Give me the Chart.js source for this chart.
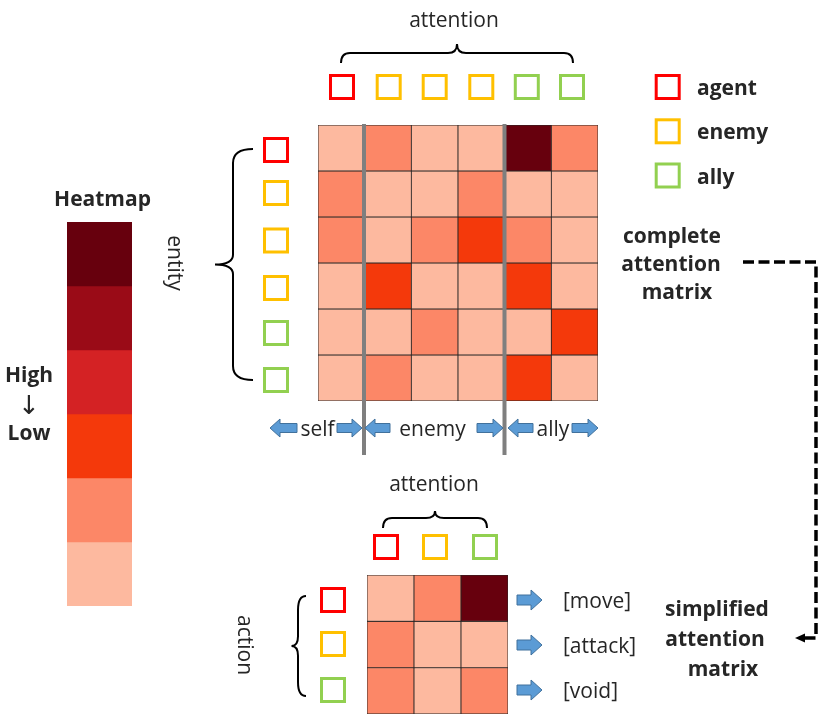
<!DOCTYPE html>
<html><head><meta charset="utf-8">
<script src="https://cdn.jsdelivr.net/npm/chart.js@4.4.1/dist/chart.umd.min.js"></script>
<style>
html,body{margin:0;padding:0;background:#fff;}
#stage{position:relative;width:831px;height:724px;overflow:hidden;background:#fff;}
canvas{position:absolute;}
svg{position:absolute;left:0;top:0;}
</style></head><body>
<div id="stage">
<canvas id="bigMap" width="280" height="276" style="left:318px;top:125px;width:280px;height:276px"></canvas>
<canvas id="smallMap" width="141" height="139" style="left:367px;top:575px;width:141px;height:139px"></canvas>
<canvas id="legendBar" width="65" height="384" style="left:67px;top:222px;width:65px;height:384px"></canvas>
<svg id="overlay" width="831" height="724" xmlns="http://www.w3.org/2000/svg"></svg>
</div>
<script>
// ---- data ----
const levelColors = ['#fdb99f', '#fc8767', '#f4390b', '#d42224', '#9a0b17', '#67000d']; // low -> high
const entityTypes = ['agent', 'enemy', 'enemy', 'enemy', 'ally', 'ally'];
const attentionLevels = [
  [0, 1, 0, 0, 5, 1],
  [1, 0, 0, 1, 0, 0],
  [1, 0, 1, 2, 1, 0],
  [0, 2, 0, 0, 2, 0],
  [0, 0, 1, 0, 0, 2],
  [0, 1, 0, 0, 2, 0]
];
const actionCols = ['agent', 'enemy', 'ally'];
const actionNames = ['[move]', '[attack]', '[void]'];
const actionLevels = [
  [0, 1, 5],
  [1, 0, 0],
  [1, 0, 1]
];
const legendLevels = [5, 4, 3, 2, 1, 0];
const groupLabels = ['self', 'enemy', 'ally'];
const legendTypes = ['agent', 'enemy', 'ally'];

// ---- styles ----
const typeColors = { agent: '#ff0000', enemy: '#ffc000', ally: '#92d050' };
const TXT = '#262626';
const REG = "'Open Sans', 'Noto Sans', sans-serif";

function heatmap(id, cols, matrix, bw) {
  const datasets = matrix.map((row, r) => ({
    data: row.map(() => [r, r + 1]),
    backgroundColor: row.map(l => levelColors[l]),
    borderColor: '#262626',
    borderWidth: bw,
    borderSkipped: false,
    barPercentage: 1,
    categoryPercentage: 1,
    grouped: false
  }));
  return new Chart(document.getElementById(id), {
    type: 'bar',
    data: { labels: cols.map((c, i) => c + i), datasets },
    options: {
      responsive: false, animation: false, events: [],
      layout: { padding: 0 },
      plugins: { legend: { display: false }, tooltip: { enabled: false } },
      scales: {
        x: { display: false },
        y: { display: false, min: 0, max: matrix.length, reverse: true }
      }
    }
  });
}
heatmap('bigMap', entityTypes, attentionLevels, 0.8);
heatmap('smallMap', actionCols, actionLevels, 0.8);
heatmap('legendBar', ['level'], legendLevels.map(l => [l]), 0);

// ---- overlay ----
const svg = document.getElementById('overlay');
const NS = 'http://www.w3.org/2000/svg';
function el(tag, attrs, text) {
  const e = document.createElementNS(NS, tag);
  for (const k in attrs) e.setAttribute(k, attrs[k]);
  if (text !== undefined) e.textContent = text;
  svg.appendChild(e);
  return e;
}
function square(cx, cy, type) {
  el('rect', { x: cx - 11.5, y: cy - 11.5, width: 23, height: 23, fill: 'none', stroke: typeColors[type], 'stroke-width': 3 });
}
function text(x, y, s, opts) {
  opts = opts || {};
  const a = {
    x, y, 'font-family': opts.family || REG, 'font-size': opts.size || 21,
    'font-weight': opts.bold ? 'bold' : 'normal', fill: TXT,
    'text-anchor': opts.anchor || 'middle', 'dominant-baseline': 'central'
  };
  if (opts.rot) a.transform = 'rotate(' + opts.rot + ' ' + x + ' ' + y + ')';
  el('text', a, s);
}
function hBrace(x1, x2, yEnd, yMid, yPeak) {
  const xm = (x1 + x2) / 2, r = 9;
  const d = `M ${x1} ${yEnd} Q ${x1} ${yMid} ${x1 + r} ${yMid} L ${xm - r} ${yMid} Q ${xm} ${yMid} ${xm} ${yPeak} Q ${xm} ${yMid} ${xm + r} ${yMid} L ${x2 - r} ${yMid} Q ${x2} ${yMid} ${x2} ${yEnd}`;
  el('path', { d, fill: 'none', stroke: '#000', 'stroke-width': 2 });
}
function vBrace(y1, y2, xEnd, xMid, xTip) {
  const ym = (y1 + y2) / 2, r = 14;
  const d = `M ${xEnd} ${y1} Q ${xMid} ${y1} ${xMid} ${y1 + r} L ${xMid} ${ym - r * 0.7} Q ${xMid} ${ym} ${xTip} ${ym} Q ${xMid} ${ym} ${xMid} ${ym + r * 0.7} L ${xMid} ${y2 - r} Q ${xMid} ${y2} ${xEnd} ${y2}`;
  el('path', { d, fill: 'none', stroke: '#000', 'stroke-width': 2 });
}
function blockArrow(x0, x1, cy, H, S, hw, dir) {
  let d;
  if (dir > 0) {
    d = `M ${x0} ${cy - S / 2} L ${x1 - hw} ${cy - S / 2} L ${x1 - hw} ${cy - H / 2} L ${x1} ${cy} L ${x1 - hw} ${cy + H / 2} L ${x1 - hw} ${cy + S / 2} L ${x0} ${cy + S / 2} Z`;
  } else {
    d = `M ${x1} ${cy - S / 2} L ${x0 + hw} ${cy - S / 2} L ${x0 + hw} ${cy - H / 2} L ${x0} ${cy} L ${x0 + hw} ${cy + H / 2} L ${x0 + hw} ${cy + S / 2} L ${x1} ${cy + S / 2} Z`;
  }
  el('path', { d, fill: '#5b9bd5', stroke: '#41719c', 'stroke-width': 1 });
}

// separators over main map
el('line', { x1: 364, y1: 124, x2: 364, y2: 455, stroke: '#7f7f7f', 'stroke-width': 4 });
el('line', { x1: 504.5, y1: 124, x2: 504.5, y2: 455, stroke: '#7f7f7f', 'stroke-width': 4 });

// main map: top squares + brace + title
const topX = [342, 388.7, 434.7, 481.3, 526.8, 572];
entityTypes.forEach((t, i) => square(topX[i], 87, t));
hBrace(341, 573, 63, 53, 44);
text(454, 19, 'attention');
// main map: left squares + brace + label
const leftY = [150, 193, 240.5, 288, 333, 380];
entityTypes.forEach((t, i) => square(276, leftY[i], t));
vBrace(149, 380, 253, 233, 215);
text(176, 263, 'entity', { rot: 90 });
// group arrows under main map
blockArrow(270, 297, 428, 18, 9, 10, -1);
text(317.5, 428, groupLabels[0]);
blockArrow(337, 362, 428, 18, 9, 10, 1);
blockArrow(365, 390, 428, 18, 9, 10, -1);
text(432.5, 428, groupLabels[1]);
blockArrow(477, 503, 428, 18, 9, 10, 1);
blockArrow(508, 533, 428, 18, 9, 10, -1);
text(553, 428, groupLabels[2]);
blockArrow(572, 598, 428, 18, 9, 10, 1);

// legend of entity types
const legY = [87, 131.3, 175.5];
legendTypes.forEach((t, i) => { square(667.7, legY[i], t); text(697, legY[i], t, { bold: true, anchor: 'start' }); });

// complete attention matrix label
text(672, 235, 'complete', { bold: true });
text(671, 263, 'attention', { bold: true });
text(677, 291, 'matrix', { bold: true });

// dashed connector
el('path', { d: 'M 743 262 L 816 262 L 816 638 L 804 638', fill: 'none', stroke: '#000', 'stroke-width': 3.5, 'stroke-dasharray': '11 4.5' });
el('path', { d: 'M 795 638 L 805 633.5 L 805 642.5 Z', fill: '#000' });

// simplified attention matrix label
text(717, 608, 'simplified', { bold: true });
text(715, 638, 'attention', { bold: true });
text(723, 668, 'matrix', { bold: true });

// small map: top squares + brace + title
const sTopX = [386, 435, 485];
actionCols.forEach((t, i) => square(sTopX[i], 547, t));
hBrace(383, 487, 528, 518, 511);
text(434, 483, 'attention');
// small map: left squares + brace + label
const sLeftY = [600, 644, 690];
actionCols.forEach((t, i) => square(333, sLeftY[i], t));
vBrace(596, 696, 306, 298, 291.5);
text(246, 645, 'action', { rot: 90 });
// action arrows + names
const actionY = [600, 645, 690];
actionNames.forEach((n, i) => {
  blockArrow(517, 542, actionY[i], 20, 10, 11, 1);
  text(563, actionY[i], n, { anchor: 'start' });
});

// heatmap legend texts
text(102.5, 198, 'Heatmap', { bold: true });
text(29, 374, 'High', { bold: true });
text(29, 405, '↓', { size: 26, family: "'DejaVu Sans', sans-serif" });
text(29, 432, 'Low', { bold: true });
</script>
</body></html>
